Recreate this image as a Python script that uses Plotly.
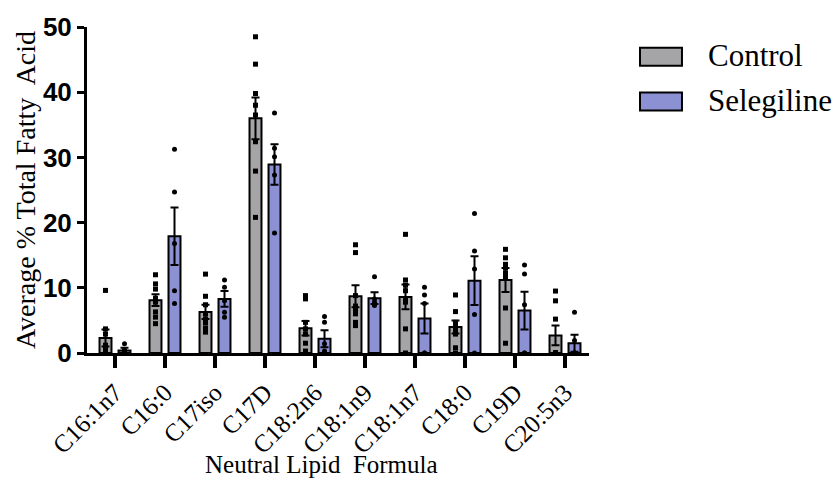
import plotly.graph_objects as go

categories = ["C16:1n7", "C16:0", "C17iso", "C17D", "C18:2n6",
              "C18:1n9", "C18:1n7", "C18:0", "C19D", "C20:5n3"]

control_mean = [2.3, 8.1, 6.3, 36.0, 3.8, 8.7, 8.6, 4.0, 11.2, 2.7]
control_sem = [1.3, 0.9, 1.1, 3.2, 1.1, 1.7, 1.9, 1.0, 1.85, 1.5]
sel_mean = [0.4, 17.9, 8.3, 28.9, 2.2, 8.4, 5.3, 11.1, 6.5, 1.5]
sel_sem = [0.4, 4.4, 1.2, 3.1, 1.3, 0.9, 2.3, 3.75, 2.9, 1.3]

control_points = [
    [9.6, 3.7, 2.9, 1.2, 0.5, 0.2, 0.0, 0.0],
    [12.0, 10.6, 9.8, 8.4, 7.8, 6.3, 5.5, 4.5],
    [12.1, 8.7, 7.4, 6.0, 5.2, 4.6, 3.8, 3.2],
    [48.5, 44.3, 39.8, 38.0, 36.5, 32.4, 27.9, 20.8],
    [8.8, 8.3, 4.7, 3.7, 2.9, 1.5, 0.3, 0.0],
    [16.6, 15.4, 8.8, 7.2, 6.5, 6.0, 4.7, 4.2],
    [18.2, 11.2, 10.4, 9.55, 8.3, 7.8, 3.7, 0.0],
    [8.9, 6.35, 4.7, 4.4, 3.5, 2.9, 0.8, 0.0],
    [15.9, 14.6, 13.6, 13.1, 12.3, 11.6, 6.9, 1.5],
    [9.5, 8.0, 5.2, 0.0, 0.0, 0.0, 0.0, 0.0],
]
sel_points = [
    [1.4, 0.5, 0.2, 0.0, 0.0],
    [31.25, 24.7, 16.8, 9.55, 7.6],
    [11.2, 10.1, 8.0, 6.25, 5.5],
    [36.8, 31.4, 30.1, 27.3, 18.4],
    [5.6, 4.7, 1.4, 0.3, 0.0],
    [11.7, 8.3, 7.8, 7.5, 7.3],
    [10.1, 8.9, 7.6, 0.0, 0.0],
    [21.4, 15.65, 12.9, 5.9, 0.0],
    [13.5, 12.1, 7.4, 0.0, 0.0],
    [6.25, 1.9, 0.0, 0.0, 0.0],
]

series_names = ["Control", "Selegiline"]
colors = ["#A5A5A8", "#8B91D3"]

SERIF = "Liberation Serif, Times New Roman, serif"
SANS = "Liberation Sans, Arial, sans-serif"

fig = go.Figure()

for name, mean, sem, col, grp in [
    (series_names[0], control_mean, control_sem, colors[0], "c"),
    (series_names[1], sel_mean, sel_sem, colors[1], "s"),
]:
    fig.add_trace(go.Bar(
        x=categories, y=mean, name=name, offsetgroup=grp,
        marker=dict(color=col, line=dict(color="black", width=2)),
        error_y=dict(type="data", array=sem, color="black", thickness=2, width=4),
        showlegend=False,
    ))

for pts, sym, grp in [(control_points, "square", "c"), (sel_points, "circle", "s")]:
    xs, ys = [], []
    for cat, vals in zip(categories, pts):
        for v in vals:
            xs.append(cat)
            ys.append(v)
    fig.add_trace(go.Scatter(
        x=xs, y=ys, mode="markers", offsetgroup=grp,
        marker=dict(symbol=sym, size=5, color="black"),
        showlegend=False, cliponaxis=False,
    ))

# legend drawn as boxes + text (paper coordinates)
legend_rows = [(0.936, 0.881, 0.9116), (0.799, 0.744, 0.7744)]
for (y0, y1, yt), name, col in zip(legend_rows, series_names, colors):
    fig.add_shape(type="rect", xref="paper", yref="paper",
                  x0=1.1016, x1=1.1852, y0=y1, y1=y0,
                  fillcolor=col, line=dict(color="black", width=2))
    fig.add_annotation(xref="paper", yref="paper", x=1.233, y=yt,
                       text=name, showarrow=False, xanchor="left", yanchor="middle",
                       font=dict(family=SERIF, size=31, color="black"))

fig.add_annotation(xref="paper", yref="paper", x=0.468, y=-0.341,
                   text="Neutral Lipid  Formula", showarrow=False,
                   xanchor="center", yanchor="middle",
                   font=dict(family=SERIF, size=25, color="black"))

fig.update_layout(
    width=837, height=492,
    margin=dict(l=87, r=248, t=25, b=139),
    paper_bgcolor="white", plot_bgcolor="white",
    barmode="group", bargap=0.24, bargroupgap=0.37,
    scattermode="group", scattergap=0.24,
    showlegend=False,
)
fig.update_xaxes(
    type="category", range=[-0.56, 9.48],
    showline=True, linecolor="black", linewidth=3,
    ticks="outside", ticklen=12, tickwidth=3.5, tickcolor="black",
    tickangle=-45, tickfont=dict(family=SERIF, size=25, color="black"),
    showgrid=False, zeroline=False,
)
fig.update_yaxes(
    range=[0, 50], tickvals=[0, 10, 20, 30, 40, 50],
    showline=True, linecolor="black", linewidth=3,
    ticks="outside", ticklen=7, tickwidth=3, tickcolor="black",
    tickfont=dict(family=SANS, size=26, color="black", weight="bold"),
    showgrid=False, zeroline=False,
    title=dict(text="Average % Total Fatty  Acid", standoff=0,
               font=dict(family=SERIF, size=28, color="black")),
)

fig.write_html("out.html")
